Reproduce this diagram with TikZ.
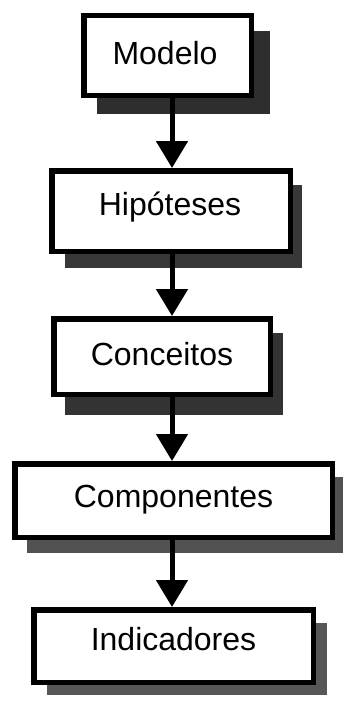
\documentclass[tikz,border=0pt]{standalone}
\usepackage{fontspec}
\setmainfont{Liberation Sans}
\usetikzlibrary{arrows.meta}
\begin{document}
\begin{tikzpicture}[x=1pt,y=-1pt,
  flowbox/.style={rectangle, draw=black, fill=white, line width=5.5pt, inner sep=0pt},
  boxtext/.style={anchor=base, inner sep=0pt, font=\fontsize{32}{38}\selectfont},
  dropshadow/.style={fill=black!#1, draw=none},
  flowarrow/.style={line width=5pt, -{Triangle[width=31pt,length=27pt]}}]
\useasboundingbox (0,0) rectangle (344,701);
\fill[white] (0,0) rectangle (344,701);

% drop shadows behind the boxes
\path[dropshadow=82] (97,31) rectangle (270,114);
\path[dropshadow=78] (65,185) rectangle (302,268);
\path[dropshadow=80] (65,333) rectangle (283,415);
\path[dropshadow=68] (27,477) rectangle (343,553);
\path[dropshadow=66] (47,623) rectangle (327,695);

% boxes
\node[flowbox, minimum width=167.5pt, minimum height=79.5pt] (modelo) at (167.5,55.5) {};
\node[flowbox, minimum width=238.5pt, minimum height=80.5pt] (hipoteses) at (171,211) {};
\node[flowbox, minimum width=216.5pt, minimum height=75.5pt] (conceitos) at (162,356.5) {};
\node[flowbox, minimum width=317.5pt, minimum height=73.5pt] (componentes) at (173.5,500.5) {};
\node[flowbox, minimum width=279.5pt, minimum height=72.5pt] (indicadores) at (173.5,646) {};

% labels
\node[boxtext] (modelo-t) at (165,65) {Modelo};
\node[boxtext] (hipoteses-t) at (170,215) {Hipóteses};
\node[boxtext] (conceitos-t) at (162,365) {Conceitos};
\node[boxtext] (componentes-t) at (173.5,507) {Componentes};
\node[boxtext] (indicadores-t) at (173.5,650) {Indicadores};

% connectors along a common vertical axis
\coordinate (axis) at (172,0);
\draw[flowarrow] (modelo.south -| axis) -- (hipoteses.north -| axis);
\draw[flowarrow] (hipoteses.south -| axis) -- (conceitos.north -| axis);
\draw[flowarrow] (conceitos.south -| axis) -- (componentes.north -| axis);
\draw[flowarrow] (componentes.south -| axis) -- (indicadores.north -| axis);
\end{tikzpicture}
\end{document}
